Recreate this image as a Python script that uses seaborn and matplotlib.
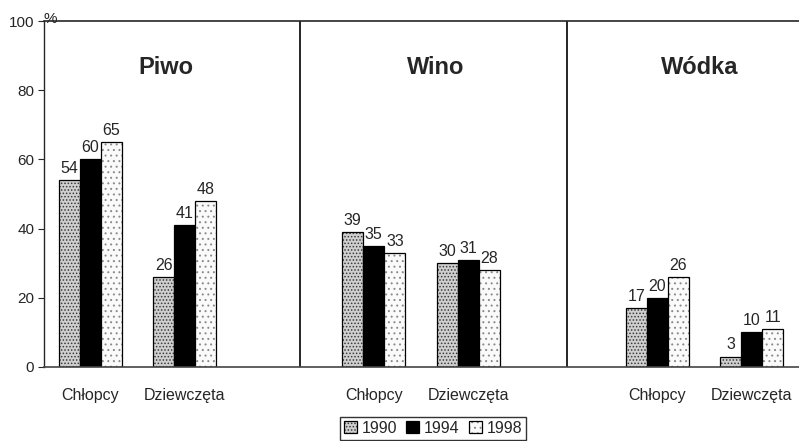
import numpy as np
import pandas as pd
import seaborn as sns
import matplotlib.pyplot as plt
from matplotlib.patches import Patch

# dane
years = ["1990", "1994", "1998"]
drinks = ["Piwo", "Wino", "Wódka"]
groups = ["Chłopcy", "Dziewczęta"]

piwo_chlopcy = [54, 60, 65]
piwo_dziewczeta = [26, 41, 48]
wino_chlopcy = [39, 35, 33]
wino_dziewczeta = [30, 31, 28]
wodka_chlopcy = [17, 20, 26]
wodka_dziewczeta = [3, 10, 11]

values = {
    ("Piwo", "Chłopcy"): piwo_chlopcy,
    ("Piwo", "Dziewczęta"): piwo_dziewczeta,
    ("Wino", "Chłopcy"): wino_chlopcy,
    ("Wino", "Dziewczęta"): wino_dziewczeta,
    ("Wódka", "Chłopcy"): wodka_chlopcy,
    ("Wódka", "Dziewczęta"): wodka_dziewczeta,
}

rows = []
for (drink, grp), vals in values.items():
    for year, v in zip(years, vals):
        rows.append({"slot": drink + "|" + grp, "year": year, "value": v})
df = pd.DataFrame(rows)

# puste miejsca między panelami
order = ["Piwo|Chłopcy", "Piwo|Dziewczęta", "gap1",
         "Wino|Chłopcy", "Wino|Dziewczęta", "gap2",
         "Wódka|Chłopcy", "Wódka|Dziewczęta"]

sns.set_style("white")
plt.rcParams["font.family"] = ["Liberation Sans", "DejaVu Sans"]
plt.rcParams["hatch.linewidth"] = 0.7

fig = plt.figure(figsize=(7.99, 4.41), dpi=100)
ax = fig.add_axes([0.055, 0.168, 0.945, 0.784])

colors = ["#cfcfcf", "#000000", "#fafafa"]
sns.barplot(data=df, x="slot", y="value", hue="year", order=order,
            hue_order=years, width=0.67, ax=ax, legend=False,
            palette=colors, saturation=1)

hatches = [".....", None, "..."]
hatch_cols = ["#3a3a3a", None, "#8a8a8a"]


def style_patch(p, h, hc):
    p.set_edgecolor("black")
    p.set_linewidth(0.9)
    if h:
        p.set_hatch(h)
        p._hatch_color = plt.matplotlib.colors.to_rgba(hc)


for cont, h, hc in zip(ax.containers, hatches, hatch_cols):
    for bar in cont:
        style_patch(bar, h, hc)
    ax.bar_label(cont, fmt="%d", padding=3, fontsize=11.5)

ax.set_ylim(0, 100)
ax.set_xlim(-0.49, 7.5)
ax.set_yticks([0, 20, 40, 60, 80, 100])
ax.set_yticklabels(["0", "20", "40", "60", "80", "100"], fontsize=11)
ax.text(-0.49, 100.5, "%", fontsize=11, ha="left", va="center")
ax.tick_params(axis="y", left=True, length=4, width=0.8, pad=3)

pos = [0, 1, 3, 4, 6, 7]
ax.set_xticks(pos)
ax.set_xticklabels(groups * 3, fontsize=11.5)
ax.tick_params(axis="x", bottom=False, pad=12)
ax.set_xlabel("")
ax.set_ylabel("")

# linie oddzielające panele
for xv in [2.22, 5.04]:
    ax.axvline(xv, color="black", lw=1.2)

for name, xc in zip(drinks, [0.8, 3.65, 6.45]):
    ax.text(xc, 86.5, name, fontsize=17, fontweight="bold", ha="center", va="center")

ax.spines["right"].set_visible(False)
ax.spines["top"].set_linewidth(1.2)
ax.spines["left"].set_linewidth(1.0)
ax.spines["bottom"].set_color("#444444")
ax.spines["bottom"].set_linewidth(1.2)

handles = []
for c, h, hc in zip(colors, hatches, hatch_cols):
    p = Patch(facecolor=c)
    style_patch(p, h, hc)
    handles.append(p)
fig.legend(handles, years, loc="lower center", bbox_to_anchor=(0.542, -0.015),
           ncol=3, fontsize=11.5, frameon=True, fancybox=False, edgecolor="black",
           handlelength=0.8, handleheight=0.8, handletextpad=0.3,
           columnspacing=0.6, borderpad=0.25)

fig.savefig("out.png", dpi=100)
